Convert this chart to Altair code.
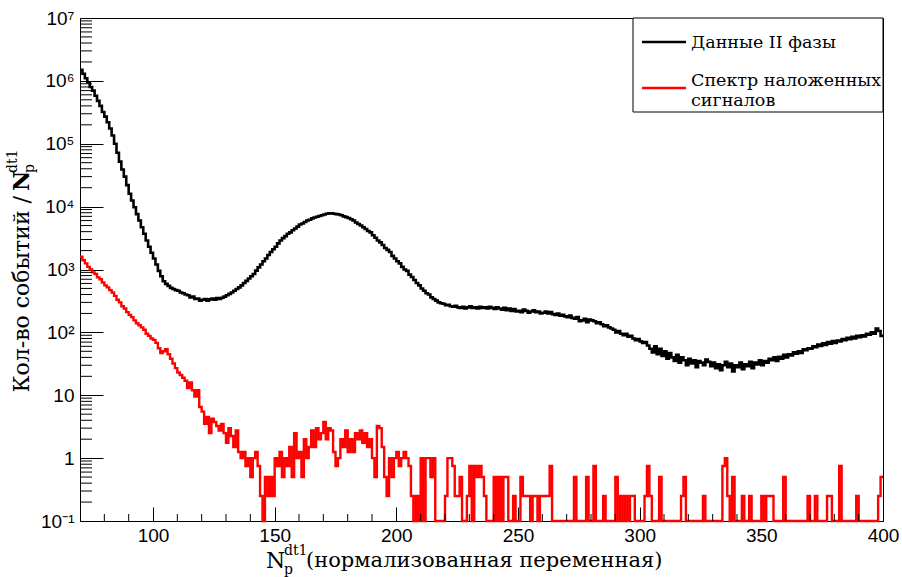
import altair as alt
import pandas as pd

# ---------------- data ----------------
BIN_LO = 70
BIN_WIDTH = 1

phase2 = [
    1500000, 1300000, 1100000, 950000, 800000, 700000, 580000, 480000, 400000, 320000,
    270000, 220000, 175000, 135000, 100000, 72000, 52000, 39000, 30000, 22000,
    16000, 12500, 9800, 7600, 6000, 4700, 3700, 2900, 2300, 1850,
    1500, 1200, 950, 780, 650, 590, 550, 510, 490, 470,
    460, 430, 420, 400, 390, 360, 370, 340, 345, 320,
    330, 340, 320, 335, 345, 330, 350, 340, 355, 370,
    390, 410, 430, 460, 490, 520, 560, 610, 660, 720,
    780, 850, 960, 1080, 1200, 1350, 1500, 1700, 1900, 2100,
    2300, 2600, 2900, 3150, 3400, 3700, 3900, 4200, 4500, 4800,
    5200, 5400, 5700, 6000, 6200, 6500, 6700, 6900, 7100, 7300,
    7500, 7700, 7800, 7800, 7700, 7600, 7500, 7300, 7000, 6800,
    6600, 6300, 6000, 5600, 5300, 5000, 4700, 4400, 4100, 3900,
    3500, 3200, 2900, 2700, 2450, 2200, 2050, 1900, 1650, 1500,
    1350, 1250, 1100, 1000, 950, 830, 760, 680, 610, 560,
    500, 460, 420, 400, 360, 340, 320, 300, 290, 285,
    270, 275, 260, 255, 265, 250, 245, 255, 240, 250,
    260, 245, 250, 240, 255, 245, 250, 240, 255, 245,
    235, 250, 240, 230, 245, 225, 240, 220, 235, 215,
    220, 210, 230, 220, 205, 215, 225, 210, 215, 200,
    205, 215, 200, 210, 195, 190, 200, 185, 190, 180,
    175, 185, 170, 165, 175, 150, 155, 165, 145, 160,
    155, 150, 140, 145, 135, 125, 130, 120, 115, 110,
    100, 105, 95, 90, 95, 85, 88, 80, 75, 78,
    72, 68, 70, 62, 55, 48, 60, 45, 55, 42,
    50, 38, 47, 40, 35, 44, 33, 40, 36, 30,
    38, 32, 36, 28, 35, 33, 30, 37, 34, 29,
    33, 27, 31, 25, 30, 34, 28, 32, 24, 30,
    28, 33, 26, 31, 29, 34, 27, 33, 31, 36,
    30, 35, 33, 38, 36, 40, 35, 41, 38, 44,
    40, 45, 43, 48, 46, 50, 47, 54, 52, 56,
    55, 60, 58, 64, 61, 67, 63, 70, 66, 73,
    68, 74, 72, 78, 75, 82, 78, 85, 80, 88,
    84, 90, 86, 95, 92, 100, 95, 115, 105, 88,
]

superposed = [
    1600, 1400, 1250, 1100, 1000, 900, 850, 750, 700, 620,
    560, 520, 470, 430, 380, 330, 300, 260, 240, 210,
    190, 175, 155, 140, 130, 120, 110, 95, 88, 80,
    76, 68, 56, 47, 50, 54, 45, 38, 32, 27,
    23, 21, 19, 17, 13, 16, 12, 9.5, 12, 6.5,
    5.5, 3.5, 4.5, 2.5, 4.25, 3.75, 3.25, 2.75, 3.5, 2.5,
    1.75, 3, 2.25, 1.5, 2.75, 1.25, 1, 1.25, 0.75, 1,
    0.5, 1, 1.25, 0.75, 0.25, 0, 0.5, 0.25, 0.5, 0.25,
    1, 0.75, 1.25, 0.5, 1, 0.75, 1.5, 0.5, 2.5, 1,
    1.25, 0.5, 2, 1, 1.5, 2.75, 1.5, 3, 2, 2.5,
    3.75, 2, 3, 2.75, 1.25, 0.75, 1, 2, 1.5, 2.75,
    1.25, 2, 1.25, 2.5, 2, 2.75, 1.75, 2.5, 1.5, 2,
    1, 0.5, 3.25, 3, 1.5, 0.5, 0.25, 1, 0.5, 1,
    1.25, 0.75, 1, 1.25, 1, 0.75, 0.25, 0, 0.25, 0,
    1, 0, 1, 1, 0.5, 1, 0, 0, 0, 0,
    0.25, 1, 1, 0.75, 0.25, 0.25, 0.5, 0, 0, 0.25,
    0.75, 0, 0.75, 0.5, 0.75, 0.5, 0.25, 0, 0, 0,
    0.5, 0, 0.5, 0, 0.5, 0.5, 0, 0, 0.25, 0,
    0, 0.5, 0.25, 0.25, 0.25, 0, 0.25, 0.25, 0, 0.25,
    0.25, 0.25, 0.25, 0.75, 0, 0, 0, 0, 0, 0,
    0, 0, 0, 0.5, 0, 0, 0, 0, 0.5, 0,
    0, 0.75, 0, 0, 0, 0.25, 0, 0, 0, 0,
    0.5, 0, 0.25, 0, 0.25, 0, 0.25, 0.25, 0, 0,
    0, 0, 0.25, 0.75, 0.25, 0, 0, 0, 0.5, 0,
    0, 0, 0, 0, 0, 0, 0, 0.25, 0.5, 0,
    0, 0, 0, 0, 0, 0, 0.25, 0, 0, 0,
    0, 0, 0, 0, 0.75, 1, 0.25, 0, 0.5, 0,
    0, 0, 0.25, 0, 0, 0.25, 0, 0, 0, 0,
    0.25, 0, 0.25, 0.25, 0.25, 0, 0, 0, 0, 0.5,
    0, 0, 0, 0, 0, 0, 0, 0, 0, 0.25,
    0, 0, 0.25, 0, 0, 0, 0, 0.25, 0.25, 0,
    0, 0, 0.75, 0, 0, 0, 0, 0, 0, 0.25,
    0, 0, 0, 0, 0, 0, 0, 0, 0.25, 0.5,
]

X_MAJOR = [100, 150, 200, 250, 300, 350, 400]
X_MINOR = [80, 90, 110, 120, 130, 140, 160, 170, 180, 190, 210, 220, 230, 240,
           260, 270, 280, 290, 310, 320, 330, 340, 360, 370, 380, 390]
Y_MAJOR = [0.1, 1, 10, 100, 1e3, 1e4, 1e5, 1e6, 1e7]
Y_MINOR = [m * d for d in [0.1, 1, 10, 100, 1e3, 1e4, 1e5, 1e6] for m in range(2, 10)]

LEGEND_1 = "Данные II фазы"
LEGEND_2a = "Спектр наложенных"
LEGEND_2b = "сигналов"

W, H = 803, 503
SERIF = "DejaVu Serif"
SANS = "Liberation Sans"


def hist_frame(values):
    edges = [BIN_LO + i * BIN_WIDTH for i in range(len(values) + 1)]
    return pd.DataFrame({"x": edges, "v": list(values) + [values[-1]]})


xs = alt.Scale(type="linear", domain=[70, 400], nice=False, zero=False)
ys = alt.Scale(type="log", domain=[0.1, 1e7], nice=False)

label_expr = ("datum.value < 0.5 ? '10⁻¹' : datum.value < 5 ? '1' : datum.value < 50 ? '10' : "
              "datum.value < 500 ? '10²' : datum.value < 5000 ? '10³' : datum.value < 50000 ? '10⁴' : "
              "datum.value < 500000 ? '10⁵' : datum.value < 5000000 ? '10⁶' : '10⁷'")

x_axis = alt.Axis(values=X_MAJOR, tickSize=14, offset=-14, domain=False, grid=False,
                  labelFont=SANS, labelFontSize=19, labelColor="black", tickColor="black",
                  tickWidth=1, labelPadding=5, labelFlush=False, title=None)
y_axis = alt.Axis(values=Y_MAJOR, tickSize=23, offset=-23, domain=False, grid=False,
                  labelFont=SANS, labelFontSize=19, labelColor="black", tickColor="black",
                  tickWidth=1, labelPadding=6, labelExpr=label_expr, labelFlush=False,
                  labelOverlap=False, title=None)

black = alt.Chart(hist_frame(phase2)).transform_calculate(
    yv="max(datum.v, 0.1)"
).mark_line(interpolate="step-after", color="black", strokeWidth=2.6).encode(
    x=alt.X("x:Q", scale=xs, axis=x_axis),
    y=alt.Y("yv:Q", scale=ys, axis=y_axis),
)

red = alt.Chart(hist_frame(superposed)).transform_calculate(
    yv="max(datum.v, 0.1)"
).mark_line(interpolate="step-after", color="#ff0000", strokeWidth=2.4).encode(
    x=alt.X("x:Q", scale=xs, axis=x_axis),
    y=alt.Y("yv:Q", scale=ys, axis=y_axis),
)

x_minor = alt.Chart(pd.DataFrame({"t": X_MINOR})).mark_rule(color="black", strokeWidth=1).encode(
    x=alt.X("t:Q", scale=xs, axis=x_axis), y=alt.value(H), y2=alt.value(H - 7)
)
y_minor = alt.Chart(pd.DataFrame({"t": Y_MINOR})).mark_rule(color="black", strokeWidth=1).encode(
    y=alt.Y("t:Q", scale=ys, axis=y_axis), x=alt.value(0), x2=alt.value(12)
)

one = pd.DataFrame({"a": [0]})


def txt(text, x, y, size, align="left", baseline="middle", angle=0, weight="normal", font=SERIF):
    kw = dict(text=text, align=align, baseline=baseline, fontSize=size, font=font,
              fontWeight=weight, color="black")
    if angle:
        kw["angle"] = angle
    return alt.Chart(one).mark_text(**kw).encode(x=alt.value(x), y=alt.value(y))


# y title (rotated)
ytitle = [
    txt("Кол-во событий /", -58, 178, 22, align="right", angle=270),
    txt("N", -58, 173, 22, align="left", angle=270, weight="bold"),
    txt("dt1", -67, 155, 14, align="left", angle=270),
    txt("p", -50, 155, 14, align="left", angle=270),
]
# x title
xtitle = [
    txt("N", 186, 543, 22),
    txt("dt1", 204, 533, 14),
    txt("p", 204, 552, 14),
    txt("(нормализованная переменная)", 226, 543, 21),
]

# legend
leg_box = alt.Chart(one).mark_rect(fill="white", stroke="black", strokeWidth=1).encode(
    x=alt.value(553), x2=alt.value(W), y=alt.value(0), y2=alt.value(94)
)
leg_l1 = alt.Chart(one).mark_rule(color="black", strokeWidth=2.6).encode(
    x=alt.value(562), x2=alt.value(606), y=alt.value(24)
)
leg_l2 = alt.Chart(one).mark_rule(color="#ff0000", strokeWidth=2.4).encode(
    x=alt.value(562), x2=alt.value(606), y=alt.value(70)
)
legend = [
    leg_box, leg_l1, leg_l2,
    txt(LEGEND_1, 611, 25, 17.5),
    txt(LEGEND_2a, 611, 63, 17.5),
    txt(LEGEND_2b, 611, 83, 17.5),
]

chart = alt.layer(
    black, red, x_minor, y_minor, *legend, *ytitle, *xtitle
).properties(
    width=W, height=H,
    autosize=alt.AutoSizeParams(type="none"),
    padding={"left": 80, "top": 18, "right": 19, "bottom": 56},
    background="white",
).configure_view(stroke="black", strokeWidth=1)

chart.save("out.html", embed_options={"renderer": "svg", "actions": False})
